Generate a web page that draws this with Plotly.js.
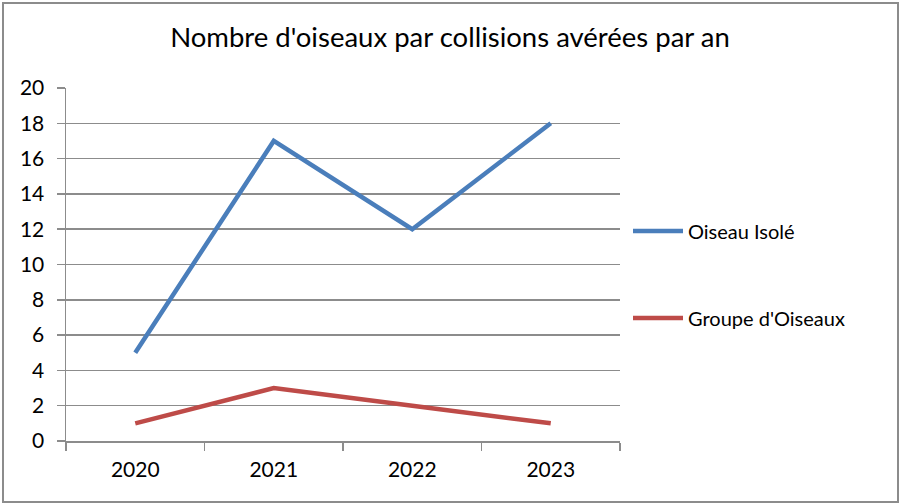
<!DOCTYPE html>
<html>
<head>
<meta charset="utf-8">
<script src="https://cdn.plot.ly/plotly-3.0.1.min.js"></script>
<style>
  html, body { margin: 0; padding: 0; background: #fff; }
  #chart { width: 900px; height: 504px; }
</style>
</head>
<body>
<div id="chart"></div>
<script>
const years = ["2020", "2021", "2022", "2023"];
const oiseauIsole = [5, 17, 12, 18];
const groupeOiseaux = [1, 3, 2, 1];

const BLUE = "#4a7ebb";
const RED = "#be4b48";
const GRID = "#8c8c8c";
const FONT = "Lato, 'Open Sans', sans-serif";

const traces = [
  {
    x: years, y: oiseauIsole, type: "scatter", mode: "lines",
    line: { color: BLUE, width: 4.5 },
    name: "Oiseau Isolé", legendgroup: "a",
  },
  {
    x: years, y: groupeOiseaux, type: "scatter", mode: "lines",
    line: { color: RED, width: 4.5 },
    name: "Groupe d'Oiseaux", legendgroup: "b",
  },
];

const layout = {
  width: 900,
  height: 504,
  paper_bgcolor: "#fff",
  plot_bgcolor: "#fff",
  font: { family: FONT, color: "#000", size: 21 },
  margin: { t: 88, r: 280, b: 63, l: 66 },
  title: {
    text: "Nombre d'oiseaux par collisions avérées par an",
    font: { size: 27.5, family: FONT },
    x: 0.5, xanchor: "center", y: 0.925, yanchor: "middle",
  },
  xaxis: {
    type: "category",
    range: [-0.5, 3.5],
    showgrid: false,
    ticks: "outside", ticklen: 8, tickcolor: GRID, tickwidth: 1.5,
    tickson: "boundaries",
    showline: true, linecolor: GRID, linewidth: 1.5,
    tickfont: { size: 21 },
    ticklabelstandoff: 9,
    fixedrange: true,
  },
  yaxis: {
    range: [0, 20],
    dtick: 2,
    showgrid: true, gridcolor: GRID, gridwidth: 1.5,
    zeroline: false,
    ticks: "outside", ticklen: 8, tickcolor: GRID, tickwidth: 1.5,
    showline: true, linecolor: GRID, linewidth: 1.5,
    tickfont: { size: 21 },
    ticklabelstandoff: 8,
    fixedrange: true,
  },
  showlegend: true,
  legend: {
    x: 8 / 554, xanchor: "left",
    y: 0.472, yanchor: "middle",
    traceorder: "grouped",
    tracegroupgap: 58,
    font: { size: 20 },
    itemwidth: 50,
  },
  shapes: [
    {
      type: "rect", xref: "paper", yref: "paper",
      x0: -63 / 554, x1: 1 + 278 / 554,
      y0: -61 / 353, y1: 1 + 85 / 353,
      line: { color: GRID, width: 2 },
    },
  ],
};
layout.legend.x = 1 + layout.legend.x;

Plotly.newPlot("chart", traces, layout, { displayModeBar: false, staticPlot: true });
</script>
</body>
</html>
